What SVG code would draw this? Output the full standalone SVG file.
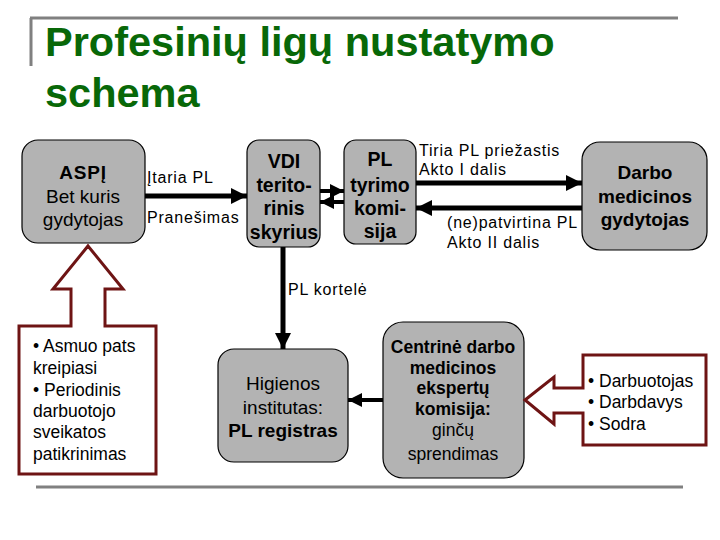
<svg xmlns="http://www.w3.org/2000/svg" width="720" height="540" viewBox="0 0 720 540">
<defs>
<style>
.box{fill:#b3b3b3;stroke:#000;stroke-width:1.2}
.t{font-family:"Liberation Sans",Arial,sans-serif;fill:#000}
.b{font-weight:bold}
.c{text-anchor:middle}
.lbl{font-size:16px;letter-spacing:0.8px}
.lst{font-size:17.5px}
.ln{stroke:#000;fill:none}
.red{fill:#fff;stroke:#6e1414;stroke-width:3;stroke-linejoin:miter}
.frame{stroke:#808080;stroke-width:3;fill:none}
.ttl{font-size:41.5px;fill:#086808}
</style>
<marker id="ah" viewBox="0 0 10 10" refX="10" refY="5" markerWidth="5" markerHeight="3.2" markerUnits="strokeWidth" orient="auto">
<path d="M0,0 L10,5 L0,10 z" fill="#000"/>
</marker>
<marker id="ahs" viewBox="0 0 10 10" refX="10" refY="5" markerWidth="3.5" markerHeight="3.5" markerUnits="strokeWidth" orient="auto">
<path d="M0,0 L10,5 L0,10 z" fill="#000"/>
</marker>
</defs>
<rect width="720" height="540" fill="#fff"/>
<g id="frame">
<path class="frame" d="M30,18 H678 M31,18 V66"/>
<path class="frame" d="M36,487 H683"/>
</g>
<g id="title">
<text class="t b ttl" x="45" y="56">Profesinių ligų nustatymo</text>
<text class="t b ttl" x="45" y="107">schema</text>
</g>
<g id="connectors">
<line class="ln" x1="145" y1="196" x2="247" y2="196" stroke-width="5" marker-end="url(#ah)"/>
<line class="ln" x1="320" y1="191" x2="344" y2="191" stroke-width="4" marker-end="url(#ahs)"/>
<line class="ln" x1="344" y1="202" x2="320" y2="202" stroke-width="4" marker-end="url(#ahs)"/>
<line class="ln" x1="416" y1="183" x2="582" y2="183" stroke-width="5" marker-end="url(#ah)"/>
<line class="ln" x1="582" y1="208" x2="416" y2="208" stroke-width="5" marker-end="url(#ah)"/>
<line class="ln" x1="283" y1="247" x2="283" y2="349" stroke-width="5" marker-end="url(#ah)"/>
<line class="ln" x1="383" y1="400" x2="348" y2="400" stroke-width="4" marker-end="url(#ahs)"/>
<text class="t lbl" x="147" y="183">Įtaria PL</text>
<text class="t lbl" x="147" y="223">Pranešimas</text>
<text class="t lbl" x="419" y="156">Tiria PL priežastis</text>
<text class="t lbl" x="419" y="175">Akto I dalis</text>
<text class="t lbl" x="447" y="228">(ne)patvirtina PL</text>
<text class="t lbl" x="447" y="248">Akto II dalis</text>
<text class="t lbl" x="288" y="295">PL kortelė</text>
</g>
<g id="aspi">
<rect class="box" x="22" y="140" width="123" height="103" rx="16"/>
<text class="t b c" x="83" y="179" font-size="19" letter-spacing="0.8">ASPĮ</text>
<text class="t c" x="83" y="203" font-size="19">Bet kuris</text>
<text class="t c" x="83" y="226" font-size="19">gydytojas</text>
</g>
<g id="vdi">
<rect class="box" x="247" y="140" width="73" height="107" rx="12"/>
<text class="t b c" x="284" y="168" font-size="19.5">VDI</text>
<text class="t b c" x="284" y="192" font-size="19.5">terito-</text>
<text class="t b c" x="284" y="215" font-size="19.5">rinis</text>
<text class="t b c" x="284" y="239" font-size="19.5">skyrius</text>
</g>
<g id="pl">
<rect class="box" x="344" y="140" width="72" height="104" rx="12"/>
<text class="t b c" x="380" y="166" font-size="19.5">PL</text>
<text class="t b c" x="380" y="192" font-size="19.5">tyrimo</text>
<text class="t b c" x="380" y="215" font-size="19.5">komi-</text>
<text class="t b c" x="380" y="238" font-size="19.5">sija</text>
</g>
<g id="darbo">
<rect class="box" x="582" y="142" width="125" height="108" rx="18"/>
<text class="t b c" x="645" y="179" font-size="19">Darbo</text>
<text class="t b c" x="645" y="203" font-size="19">medicinos</text>
<text class="t b c" x="645" y="226" font-size="19">gydytojas</text>
</g>
<g id="higienos">
<rect class="box" x="218" y="349" width="130" height="113" rx="16"/>
<text class="t c" x="283" y="390" font-size="19">Higienos</text>
<text class="t c" x="283" y="414" font-size="19">institutas:</text>
<text class="t b c" x="283" y="437" font-size="19">PL registras</text>
</g>
<g id="centrine">
<rect class="box" x="383" y="322" width="141" height="156" rx="20"/>
<text class="t b c lst" x="453" y="353">Centrinė darbo</text>
<text class="t b c lst" x="453" y="374">medicinos</text>
<text class="t b c lst" x="453" y="394">ekspertų</text>
<text class="t b c lst" x="453" y="415">komisija:</text>
<text class="t c lst" x="453" y="436">ginčų</text>
<text class="t c lst" x="453" y="460">sprendimas</text>
</g>
<g id="kreipiasi">
<polygon class="red" points="88,246 123,289 105,289 105,326 156,326 156,474 19,474 19,326 71,326 71,289 53,289"/>
<text class="t lst" x="33" y="352">• Asmuo pats</text>
<text class="t lst" x="33" y="374">kreipiasi</text>
<text class="t lst" x="33" y="396">• Periodinis</text>
<text class="t lst" x="33" y="417">darbuotojo</text>
<text class="t lst" x="33" y="438">sveikatos</text>
<text class="t lst" x="33" y="460">patikrinimas</text>
</g>
<g id="salys">
<polygon class="red" points="525,400 554,377 554,388 583,388 583,355 706,355 706,445 583,445 583,413 554,413 554,424"/>
<text class="t lst" x="588" y="387">• Darbuotojas</text>
<text class="t lst" x="588" y="408">• Darbdavys</text>
<text class="t lst" x="588" y="430">• Sodra</text>
</g>
</svg>
